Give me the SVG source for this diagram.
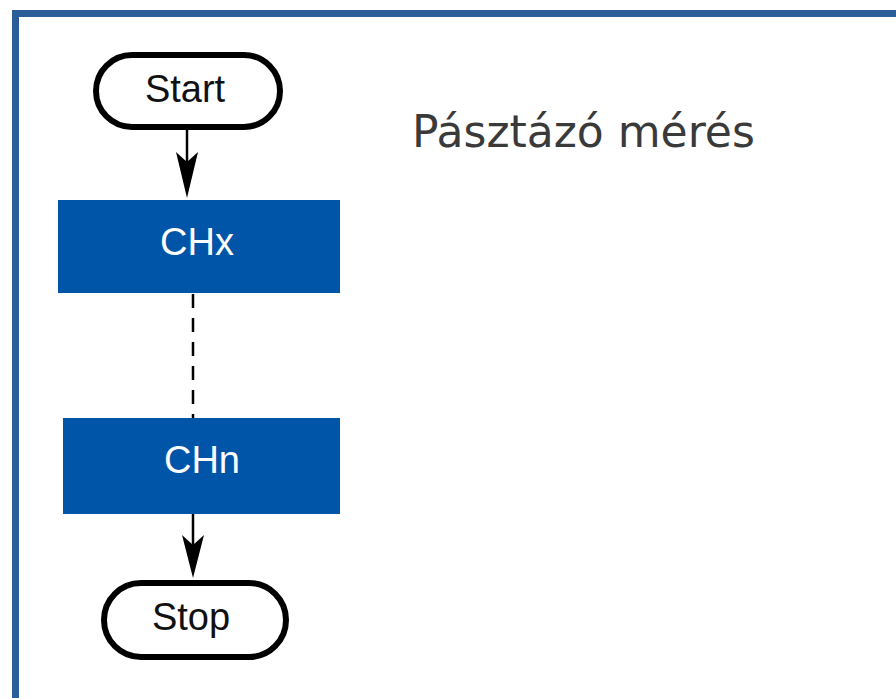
<svg xmlns="http://www.w3.org/2000/svg" width="896" height="698" viewBox="0 0 896 698">
<defs>
<style>
.term{fill:#fff;stroke:#000;stroke-width:6}
.proc{fill:#0055a8}
.lbl{font-family:"Liberation Sans",Arial,sans-serif;font-size:38px;text-anchor:middle;fill:#111}
.wl{fill:#fff}
.conn{stroke:#000;stroke-width:2.5;fill:none}
.head{fill:#000}
</style>
</defs>
<rect x="0" y="0" width="896" height="698" fill="#fff"/>
<rect x="15.5" y="13.5" width="900" height="700" fill="none" stroke="#2b5d99" stroke-width="7"/>
<g id="connectors">
<line class="conn" x1="187" y1="130" x2="187" y2="190"/>
<path class="head" d="M176,152 L187,198 L198,152 L187,162 Z"/>
<line class="conn" x1="193" y1="294" x2="193" y2="418" stroke-dasharray="14,10"/>
<line class="conn" x1="193" y1="514" x2="193" y2="570"/>
<path class="head" d="M182,535 L193,578 L204,535 L193,545 Z"/>
</g>
<g id="start">
<rect class="term" x="96" y="55" width="184" height="72" rx="36"/>
<text class="lbl" x="185" y="102">Start</text>
</g>
<g id="chx">
<rect class="proc" x="58" y="200" width="282" height="93"/>
<text class="lbl wl" x="197" y="255">CHx</text>
</g>
<g id="chn">
<rect class="proc" x="63" y="418" width="277" height="96"/>
<text class="lbl wl" x="202" y="473">CHn</text>
</g>
<g id="stop">
<rect class="term" x="104" y="583" width="182" height="74" rx="37"/>
<text class="lbl" x="191" y="630">Stop</text>
</g>
<g id="title">
<text x="412" y="147" font-family="'DejaVu Sans',sans-serif" font-size="44" fill="#3a3a3a">Pásztázó mérés</text>
</g>
</svg>
